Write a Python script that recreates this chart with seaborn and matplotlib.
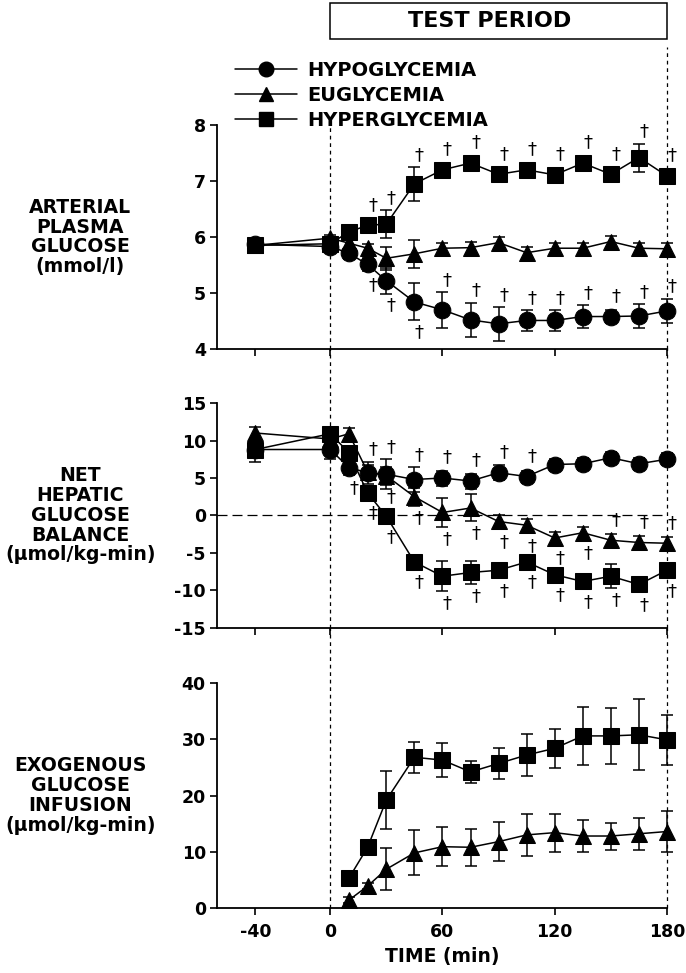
import numpy as np
import pandas as pd
import matplotlib
matplotlib.use('Agg')
import matplotlib.pyplot as plt
import matplotlib.transforms as mtransforms
from matplotlib.lines import Line2D
from matplotlib.patches import Rectangle
import seaborn as sns

# time points (min)
time = [-40, 0, 10, 20, 30, 45, 60, 75, 90, 105, 120, 135, 150, 165, 180]
groups = ['HYPOGLYCEMIA', 'EUGLYCEMIA', 'HYPERGLYCEMIA']

# arterial plasma glucose (mmol/l)
glu_hypo = [5.87, 5.83, 5.71, 5.51, 5.22, 4.84, 4.70, 4.52, 4.45, 4.51, 4.51, 4.58, 4.58, 4.59, 4.68]
glu_hypo_se = [0.05, 0.08, 0.10, 0.12, 0.23, 0.33, 0.32, 0.31, 0.30, 0.18, 0.18, 0.20, 0.12, 0.22, 0.22]
glu_eu = [5.85, 5.98, 5.89, 5.80, 5.62, 5.70, 5.80, 5.81, 5.90, 5.72, 5.80, 5.80, 5.92, 5.80, 5.79]
glu_eu_se = [0.05, 0.05, 0.08, 0.08, 0.20, 0.25, 0.10, 0.10, 0.10, 0.10, 0.10, 0.10, 0.10, 0.10, 0.10]
glu_hyper = [5.85, 5.88, 6.09, 6.21, 6.23, 6.95, 7.20, 7.32, 7.12, 7.20, 7.11, 7.32, 7.12, 7.42, 7.09]
glu_hyper_se = [0.05, 0.05, 0.08, 0.08, 0.25, 0.30, 0.12, 0.10, 0.10, 0.10, 0.10, 0.10, 0.10, 0.25, 0.12]

# net hepatic glucose balance (umol/kg-min)
nhgb_hypo = [8.8, 8.8, 6.4, 5.7, 5.5, 4.8, 5.0, 4.6, 5.7, 5.2, 6.8, 6.9, 7.7, 6.9, 7.5]
nhgb_hypo_se = [1.0, 1.3, 1.0, 1.5, 2.0, 1.7, 1.0, 1.0, 1.0, 0.8, 0.8, 0.8, 0.8, 0.8, 0.8]
nhgb_eu = [11.0, 10.2, 10.9, 5.8, 5.3, 2.5, 0.4, 1.0, -0.8, -1.3, -3.0, -2.3, -3.3, -3.6, -3.7]
nhgb_eu_se = [0.8, 0.8, 0.8, 1.0, 1.2, 1.2, 1.9, 1.8, 0.8, 0.8, 0.8, 0.8, 0.8, 0.8, 0.8]
nhgb_hyper = [8.8, 10.9, 8.4, 3.0, -0.1, -6.2, -8.1, -7.6, -7.3, -6.2, -7.9, -8.8, -8.1, -9.2, -7.3]
nhgb_hyper_se = [1.6, 0.8, 0.8, 0.8, 0.8, 0.8, 2.0, 1.5, 0.8, 0.8, 0.8, 0.8, 1.6, 0.8, 0.8]

# exogenous glucose infusion (umol/kg-min)
inf_eu = [np.nan, np.nan, 1.4, 3.9, 6.9, 9.8, 10.9, 10.8, 11.8, 13.0, 13.4, 12.8, 12.8, 13.2, 13.6]
inf_eu_se = [np.nan, np.nan, 0.5, 0.6, 3.7, 4.0, 3.5, 3.3, 3.5, 3.7, 3.4, 2.8, 2.4, 2.8, 3.6]
inf_hyper = [np.nan, np.nan, 5.3, 10.8, 19.2, 26.8, 26.3, 24.2, 25.7, 27.2, 28.4, 30.6, 30.6, 30.8, 29.9]
inf_hyper_se = [np.nan, np.nan, 0.5, 0.8, 5.2, 2.8, 3.0, 2.0, 2.8, 3.8, 3.5, 5.1, 5.0, 6.3, 4.4]

# significance daggers: 1 above, -1 below, 0 none
glu_hypo_sig = [0, 0, 0, -1, -1, -1, 1, 1, 1, 1, 1, 1, 1, 1, 1]
glu_hyper_sig = [0, 0, 0, 1, 1, 1, 1, 1, 1, 1, 1, 1, 1, 1, 1]
nhgb_hypo_sig = [0, 0, -1, 1, 1, 1, 1, 1, 1, 1, 0, 0, 0, 0, 0]
nhgb_eu_sig = [0, 0, 0, 0, -1, -1, -1, -1, -1, -1, -1, -1, 1, 1, 1]
nhgb_hyper_sig = [0, 0, 0, -1, -1, -1, -1, -1, -1, -1, -1, -1, -1, -1, -1]

panel_labels = ['ARTERIAL\nPLASMA\nGLUCOSE\n(mmol/l)',
                'NET\nHEPATIC\nGLUCOSE\nBALANCE\n(µmol/kg-min)',
                'EXOGENOUS\nGLUCOSE\nINFUSION\n(µmol/kg-min)']
x_ticks = [-40, 0, 60, 120, 180]

sns.set_theme(style='ticks')
plt.rcParams['font.family'] = ['DejaVu Sans']
plt.rcParams['font.weight'] = 'bold'
plt.rcParams['axes.unicode_minus'] = False
for key in ['text.color', 'axes.labelcolor', 'xtick.color', 'ytick.color', 'axes.edgecolor']:
    plt.rcParams[key] = 'black'

markers = {'HYPOGLYCEMIA': 'o', 'EUGLYCEMIA': '^', 'HYPERGLYCEMIA': 's'}
palette = {g: 'black' for g in groups}
DPI = 100

fig = plt.figure(figsize=(6.86, 9.73), dpi=DPI)
ax_top = fig.add_axes([0.3163, 0.6413, 0.656, 0.2302])
ax_mid = fig.add_axes([0.3163, 0.3546, 0.656, 0.2312])
ax_bot = fig.add_axes([0.3163, 0.0668, 0.656, 0.2312])


def draw_panel(ax, series, ylim, yticks):
    rows = []
    for name, mean, se, sig in series:
        for t, m in zip(time, mean):
            rows.append({'time': t, 'value': m, 'group': name})
    df = pd.DataFrame(rows).dropna()
    ax.set_xlim(-60.5, 180)
    ax.set_ylim(*ylim)
    for name, mean, se, sig in series:
        ax.errorbar(time, mean, yerr=se, fmt='none', ecolor='black',
                    elinewidth=1.1, capsize=4, capthick=1.1, zorder=1.5)
    sns.lineplot(data=df, x='time', y='value', hue='group', style='group',
                 markers=markers, dashes=False, palette=palette, ax=ax,
                 legend=False, markersize=12, markeredgecolor='black',
                 linewidth=1.1, sort=True)
    for art in ax.get_children():
        if isinstance(art, (Line2D, matplotlib.collections.LineCollection)):
            art.set_clip_on(False)
    ax.set_yticks(yticks)
    ax.set_xticks(x_ticks)
    ax.set_xlabel('')
    ax.set_ylabel('')
    sns.despine(ax=ax)
    for s in ['left', 'bottom']:
        ax.spines[s].set_linewidth(1.3)
    ax.tick_params(direction='out', length=5, width=1.2, labelsize=12.5, pad=3)
    ax.tick_params(axis='x', pad=6)
    # daggers
    p0 = ax.transData.transform((0, 0))
    p1 = ax.transData.transform((0, 1))
    ppu = p1[1] - p0[1]
    for name, mean, se, sig in series:
        if sig is None:
            continue
        for t, m, e, d in zip(time, mean, se, sig):
            if d == 0:
                continue
            gap = max(e * ppu, 8.5) + 12
            ax.annotate('†', xy=(t, m), xytext=(3.6, d * gap * 72 / DPI),
                        textcoords='offset points', ha='center', va='center',
                        fontsize=13, fontweight='normal', annotation_clip=False)


draw_panel(ax_top, [('HYPERGLYCEMIA', glu_hyper, glu_hyper_se, glu_hyper_sig),
                    ('EUGLYCEMIA', glu_eu, glu_eu_se, None),
                    ('HYPOGLYCEMIA', glu_hypo, glu_hypo_se, glu_hypo_sig)],
           (4, 8), [4, 5, 6, 7, 8])
draw_panel(ax_mid, [('HYPERGLYCEMIA', nhgb_hyper, nhgb_hyper_se, nhgb_hyper_sig),
                    ('EUGLYCEMIA', nhgb_eu, nhgb_eu_se, nhgb_eu_sig),
                    ('HYPOGLYCEMIA', nhgb_hypo, nhgb_hypo_se, nhgb_hypo_sig)],
           (-15, 15), [-15, -10, -5, 0, 5, 10, 15])
draw_panel(ax_bot, [('HYPERGLYCEMIA', inf_hyper, inf_hyper_se, None),
                    ('EUGLYCEMIA', inf_eu, inf_eu_se, None)],
           (0, 40), [0, 10, 20, 30, 40])

ax_top.tick_params(axis='x', labelbottom=False)
ax_mid.tick_params(axis='x', labelbottom=False)
ax_bot.set_xlabel('TIME (min)', fontsize=13.5, fontweight='bold', labelpad=4)

# dashed reference lines
ax_mid.axhline(0, color='black', lw=0.9, ls=(0, (8, 4)), zorder=1)
ax_top.axvline(0, ymin=0, ymax=1.0, color='black', lw=0.9, ls=(0, (3, 3)), clip_on=False, zorder=1)
ax_top.axvline(180, ymin=0, ymax=1.35, color='black', lw=0.9, ls=(0, (3, 3)), clip_on=False, zorder=1)
for ax in [ax_mid, ax_bot]:
    for xv in [0, 180]:
        ax.axvline(xv, ymin=0, ymax=1.245, color='black', lw=0.9, ls=(0, (3, 3)), clip_on=False, zorder=1)

# test period box
trans = mtransforms.blended_transform_factory(ax_top.transData, ax_top.transAxes)
ax_top.add_patch(Rectangle((0, 1.384), 180, 0.161, transform=trans, fill=False,
                           edgecolor='black', lw=1.1, clip_on=False))
ax_top.text(85, 1.464, 'TEST PERIOD', transform=trans, ha='center', va='center',
            fontsize=16, fontweight='bold')

# panel labels
for ax, lab in zip([ax_top, ax_mid, ax_bot], panel_labels):
    pos = ax.get_position()
    fig.text(0.117, pos.y0 + pos.height / 2, lab, ha='center', va='center',
             multialignment='center', fontsize=13.6, fontweight='bold', linespacing=1.05)

# legend
handles = [Line2D([], [], color='black', marker=markers[g], markersize=10.5, lw=1.1)
           for g in groups]
fig.legend(handles, groups, loc='upper left', bbox_to_anchor=(0.3426, 0.937),
           frameon=False, handlelength=3.2, handletextpad=0.5, labelspacing=0.3,
           borderpad=0, borderaxespad=0, prop={'size': 14, 'weight': 'bold'})

fig.savefig('out.png', dpi=DPI)
